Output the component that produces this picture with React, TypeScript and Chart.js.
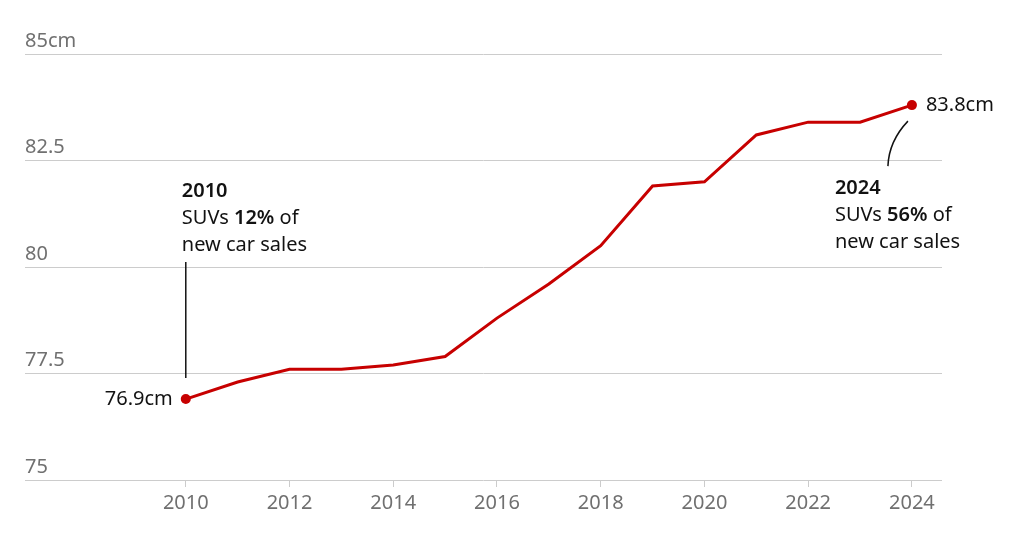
import React, { useEffect, useRef } from "react";
import { Chart, registerables } from "chart.js";

Chart.register(...registerables);

const years = [2010, 2011, 2012, 2013, 2014, 2015, 2016, 2017, 2018, 2019, 2020, 2021, 2022, 2023, 2024];
const widthsCm = [76.9, 77.3, 77.6, 77.6, 77.7, 77.9, 78.8, 79.6, 80.5, 81.9, 82.0, 83.1, 83.4, 83.4, 83.8];
const xTickYears = [2010, 2012, 2014, 2016, 2018, 2020, 2022, 2024];
const yTickValues = [75, 77.5, 80, 82.5, 85];
const startNote = { year: "2010", pre: "SUVs ", bold: "12%", post: " of", line3: "new car sales", value: "76.9cm" };
const endNote = { year: "2024", pre: "SUVs ", bold: "56%", post: " of", line3: "new car sales", value: "83.8cm" };

const FONT = "'Noto Sans', 'DejaVu Sans', sans-serif";
const RED = "#c70000";
const DARK = "#121212";
const GREY = "#707070";
const GRID = "#cccccc";
const FS = 20;

function drawRich(ctx: CanvasRenderingContext2D, x: number, y: number, pre: string, bold: string, post: string) {
  ctx.font = `${FS}px ${FONT}`;
  ctx.fillText(pre, x, y);
  let cx = x + ctx.measureText(pre).width;
  ctx.font = `600 ${FS}px ${FONT}`;
  ctx.fillText(bold, cx, y);
  cx += ctx.measureText(bold).width;
  ctx.font = `${FS}px ${FONT}`;
  ctx.fillText(post, cx, y);
}

const annotationPlugin = {
  id: "annots",
  afterDatasetsDraw(chart: any) {
    const ctx: CanvasRenderingContext2D = chart.ctx;
    const meta = chart.getDatasetMeta(0);
    const p0 = meta.data[0];
    const pN = meta.data[meta.data.length - 1];
    ctx.save();
    ctx.textBaseline = "middle";
    ctx.fillStyle = DARK;
    // value labels
    ctx.font = `${FS}px ${FONT}`;
    ctx.textAlign = "right";
    ctx.fillText(startNote.value, p0.x - 13, p0.y);
    ctx.textAlign = "left";
    ctx.fillText(endNote.value, pN.x + 14, pN.y);

    // 2010 note
    ctx.font = `600 ${FS}px ${FONT}`;
    ctx.fillText(startNote.year, p0.x - 4, p0.y - 208);
    drawRich(ctx, p0.x - 4, p0.y - 181, startNote.pre, startNote.bold, startNote.post);
    ctx.font = `${FS}px ${FONT}`;
    ctx.fillText(startNote.line3, p0.x - 4, p0.y - 154);
    ctx.strokeStyle = DARK;
    ctx.lineWidth = 1.5;
    ctx.beginPath();
    ctx.moveTo(p0.x, p0.y - 137);
    ctx.lineTo(p0.x, p0.y - 21);
    ctx.stroke();

    // 2024 note
    ctx.font = `600 ${FS}px ${FONT}`;
    ctx.fillText(endNote.year, pN.x - 77, pN.y + 83);
    drawRich(ctx, pN.x - 77, pN.y + 110, endNote.pre, endNote.bold, endNote.post);
    ctx.font = `${FS}px ${FONT}`;
    ctx.fillText(endNote.line3, pN.x - 77, pN.y + 137);
    ctx.beginPath();
    ctx.moveTo(pN.x - 4, pN.y + 16);
    ctx.quadraticCurveTo(pN.x - 23, pN.y + 36, pN.x - 24, pN.y + 61);
    ctx.stroke();
    ctx.restore();
  },
};

export default function App() {
  const ref = useRef<HTMLCanvasElement | null>(null);
  useEffect(() => {
    if (!ref.current) return;
    const last = years.length - 1;
    const chart = new Chart(ref.current, {
      type: "line",
      data: {
        datasets: [
          {
            data: years.map((y, i) => ({ x: y, y: widthsCm[i] })),
            borderColor: RED,
            backgroundColor: RED,
            borderWidth: 3,
            tension: 0,
            pointRadius: (c: any) => (c.dataIndex === 0 || c.dataIndex === last ? 5 : 0),
            pointBorderWidth: 0,
            pointHoverRadius: 0,
          },
        ],
      },
      options: {
        animation: false,
        responsive: false,
        events: [],
        layout: { padding: { left: 25, right: 82, top: 54, bottom: 15 } },
        plugins: { legend: { display: false }, tooltip: { enabled: false } },
        scales: {
          x: {
            type: "linear",
            min: 2006.9,
            max: 2024.58,
            afterBuildTicks: (axis: any) => {
              axis.ticks = xTickYears.map((v) => ({ value: v }));
            },
            grid: { drawOnChartArea: false, drawTicks: true, tickLength: 7, color: GRID, lineWidth: 1 },
            border: { display: false },
            ticks: {
              padding: 4,
              color: GREY,
              font: { family: FONT, size: FS },
              callback: (v: any) => String(v),
              maxRotation: 0,
              autoSkip: false,
            },
          },
          y: {
            min: 75,
            max: 85,
            afterBuildTicks: (axis: any) => {
              axis.ticks = yTickValues.map((v) => ({ value: v }));
            },
            grid: { drawTicks: false, color: GRID, lineWidth: 1 },
            border: { display: false },
            ticks: {
              mirror: true,
              padding: 0,
              labelOffset: -13,
              color: GREY,
              font: { family: FONT, size: FS },
              callback: (v: any) => (v === 85 ? "85cm" : String(v)),
            },
          },
        },
      },
      plugins: [annotationPlugin],
    } as any);
    return () => chart.destroy();
  }, []);
  return (
    <div style={{ position: "fixed", left: 0, top: 0, width: 1024, height: 534, background: "#fff" }}>
      <canvas ref={ref} width={1024} height={534} style={{ width: 1024, height: 534, display: "block" }} />
    </div>
  );
}
